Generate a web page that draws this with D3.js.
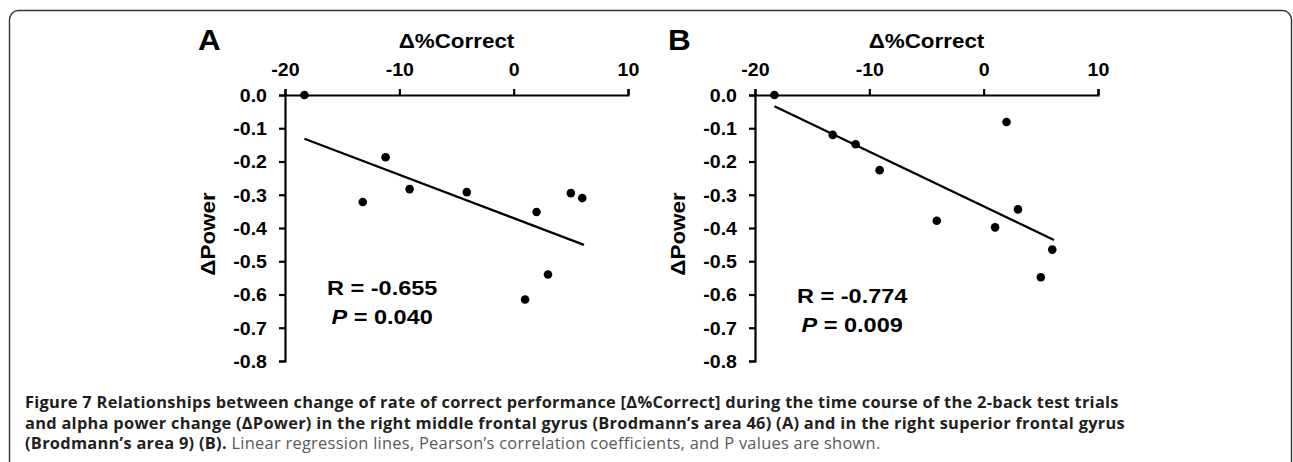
<!DOCTYPE html>
<html>
<head>
<meta charset="utf-8">
<script src="https://cdn.jsdelivr.net/npm/d3@7"></script>
<style>
  html, body { margin: 0; padding: 0; background: #fff; }
  svg { display: block; }
</style>
</head>
<body>
<svg id="chart" width="1293" height="462"></svg>
<script>
// ---------------- data ----------------
const deltaCorrect = [-18.3, -13.2, -11.2, -9.1, -4.1, 1.0, 2.0, 3.0, 5.0, 6.0];
const powerA = [0, -0.322, -0.187, -0.283, -0.292, -0.615, -0.352, -0.54, -0.295, -0.31];
const powerB = [0, -0.12, -0.148, -0.226, -0.378, -0.398, -0.081, -0.344, -0.548, -0.465];
const xTicks = [-20, -10, 0, 10];
const yTicks = [0, -0.1, -0.2, -0.3, -0.4, -0.5, -0.6, -0.7, -0.8];
const panelNames = ["A", "B"];
const rTexts = ["R = -0.655", "R = -0.774"];
const pTexts = ["= 0.040", "= 0.009"];
const xTitle = "\u0394%Correct";
const yTitle = "\u0394Power";
const captionLines = [
  [{t: "Figure 7", w: 700, c: "#1a1a1a"}, {t: " Relationships between change of rate of correct performance [\u0394%Correct] during the time course of the 2-back test trials", w: 700, c: "#231f20"}],
  [{t: "and alpha power change (\u0394Power) in the right middle frontal gyrus (Brodmann\u2019s area 46) (A) and in the right superior frontal gyrus", w: 700, c: "#231f20"}],
  [{t: "(Brodmann\u2019s area 9) (B).", w: 700, c: "#231f20"}, {t: " Linear regression lines, Pearson\u2019s correlation coefficients, and P values are shown.", w: 400, c: "#58595b"}]
];

// ---------------- layout ----------------
const svg = d3.select("#chart");
const FONT = "'Liberation Sans', Arial, sans-serif";
const SX = 1.12; // horizontal stretch of chart lettering

// frame
svg.append("rect")
  .attr("x", 9.5).attr("y", 10.5).attr("width", 1282).attr("height", 480)
  .attr("rx", 9).attr("ry", 9)
  .attr("fill", "none").attr("stroke", "#333").attr("stroke-width", 1.4);

const loc = d3.formatLocale({decimal: ".", thousands: ",", grouping: [3], currency: ["", ""], minus: "-"});
const fx = loc.format("d");
const fy = loc.format(".1f");

const panels = [
  {name: panelNames[0], y: powerA, x0: 285, x1: 628, r: rTexts[0], p: pTexts[0], statDy: 0},
  {name: panelNames[1], y: powerB, x0: 755, x1: 1098, r: rTexts[1], p: pTexts[1], statDy: 8}
];

const yTop = 95, yBot = 361;

panels.forEach(pn => {
  const x = d3.scaleLinear().domain([-20, 10]).range([pn.x0, pn.x1]);
  const y = d3.scaleLinear().domain([-0.8, 0]).range([yBot, yTop]);
  const g = svg.append("g");

  const xa = g.append("g").attr("transform", `translate(0,${y(0)})`)
    .call(d3.axisTop(x).tickValues(xTicks).tickFormat(fx).tickSize(6).tickSizeOuter(6).tickPadding(13));
  const ya = g.append("g").attr("transform", `translate(${x(-20)},0)`)
    .call(d3.axisLeft(y).tickValues(yTicks).tickFormat(fy).tickSize(6).tickSizeOuter(6).tickPadding(12));

  [xa, ya].forEach(a => {
    a.selectAll("path, line").attr("stroke", "#000").attr("stroke-width", 2.2);
    a.selectAll("text").attr("fill", "#000").attr("font-family", FONT)
      .attr("font-weight", "bold").attr("font-size", 17.5);
  });
  xa.selectAll("text").attr("transform", `scale(${SX},1)`);
  ya.selectAll("text").attr("x", -18 / SX).attr("dy", "0.36em").attr("transform", `scale(${SX},1)`);

  g.append("text").attr("x", 0).attr("y", 0)
    .attr("transform", `translate(${pn.x0 - 87},50) scale(1.05,1)`)
    .attr("font-family", FONT).attr("font-weight", "bold").attr("font-size", 30).text(pn.name);

  g.append("text")
    .attr("transform", `translate(${(pn.x0 + pn.x1) / 2},48) scale(${SX},1)`)
    .attr("text-anchor", "middle")
    .attr("font-family", FONT).attr("font-weight", "bold").attr("font-size", 20).text(xTitle);

  g.append("text")
    .attr("transform", `translate(${pn.x0 - 70},${(yTop + yBot) / 2 + 6}) rotate(-90) scale(${SX},1)`)
    .attr("text-anchor", "middle")
    .attr("font-family", FONT).attr("font-weight", "bold").attr("font-size", 20).text(yTitle);

  // regression line (least squares fit)
  const xs = deltaCorrect, ys = pn.y;
  const mx = d3.mean(xs), my = d3.mean(ys);
  const slope = d3.sum(xs, (v, i) => (v - mx) * (ys[i] - my)) / d3.sum(xs, v => (v - mx) * (v - mx));
  const icpt = my - slope * mx;
  const ext = d3.extent(xs);
  g.append("line")
    .attr("x1", x(ext[0])).attr("y1", y(icpt + slope * ext[0]))
    .attr("x2", x(ext[1] + 0.15)).attr("y2", y(icpt + slope * (ext[1] + 0.15)))
    .attr("stroke", "#000").attr("stroke-width", 2.2);

  g.selectAll("circle.pt").data(xs.map((v, i) => [v, ys[i]])).join("circle")
    .attr("class", "pt")
    .attr("cx", d => x(d[0])).attr("cy", d => y(d[1])).attr("r", 4.3).attr("fill", "#000");

  const sx = x(-11.5);
  g.append("text")
    .attr("transform", `translate(${sx},${295 + pn.statDy}) scale(${SX},1)`)
    .attr("text-anchor", "middle")
    .attr("font-family", FONT).attr("font-weight", "bold").attr("font-size", 21).text(pn.r);
  const pt = g.append("text")
    .attr("transform", `translate(${sx},${324 + pn.statDy}) scale(${SX},1)`)
    .attr("text-anchor", "middle")
    .attr("font-family", FONT).attr("font-weight", "bold").attr("font-size", 21);
  pt.append("tspan").attr("font-style", "italic").text("P");
  pt.append("tspan").text(" " + pn.p);
});

// caption
const cap = svg.append("g");
captionLines.forEach((line, i) => {
  const t = cap.append("text")
    .attr("x", 25).attr("y", 408 + i * 20.5)
    .attr("font-family", "'Open Sans', 'Noto Sans', sans-serif").attr("font-size", 16.4)
    .attr("letter-spacing", 0.28);
  line.forEach(s => t.append("tspan").attr("font-weight", s.w).attr("fill", s.c).text(s.t));
});
</script>
</body>
</html>
